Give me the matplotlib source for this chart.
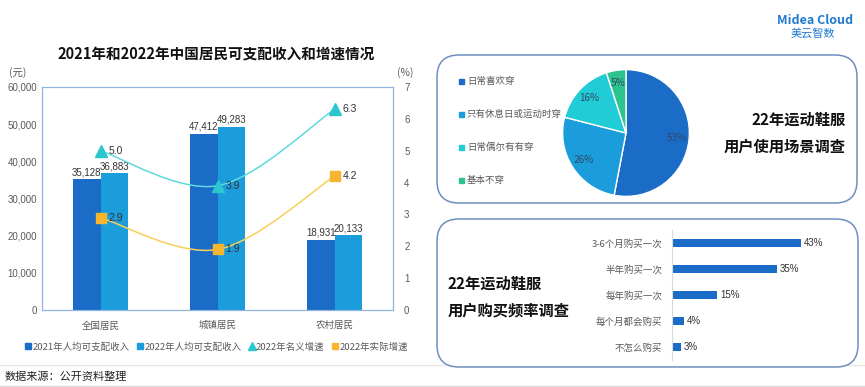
import numpy as np
import matplotlib
matplotlib.use("Agg")
import matplotlib.pyplot as plt
from matplotlib.patches import FancyBboxPatch, Rectangle, PathPatch
from matplotlib.path import Path
from matplotlib.lines import Line2D
from matplotlib.ticker import FuncFormatter

plt.rcParams['font.family'] = ['Noto Sans CJK SC', 'DejaVu Sans']
NUM = ['Liberation Sans', 'Noto Sans CJK SC']

# left chart data
groups = ["全国居民", "城镇居民", "农村居民"]
income_2021 = [35128, 47412, 18931]
income_2022 = [36883, 49283, 20133]
nominal_growth = [5.0, 3.9, 6.3]
real_growth = [2.9, 1.9, 4.2]
series_names = ["2021年人均可支配收入", "2022年人均可支配收入", "2022年名义增速", "2022年实际增速"]

# pie data
scene_labels = ["日常喜欢穿", "只有休息日或运动时穿", "日常偶尔有有穿", "基本不穿"]
scene_share = [53, 26, 16, 5]

# purchase frequency data
freq_labels = ["3-6个月购买一次", "半年购买一次", "每年购买一次", "每个月都会购买", "不怎么购买"]
freq_share = [43, 35, 15, 4, 3]

DARK, LIGHT = "#1a6cc6", "#1c9ddb"
CYAN, CYAN_L = "#2cc6cf", "#5fd8df"
GOLD, GOLD_L = "#f5b52e", "#f7d05a"
PIE_COLS = ["#1a6cc6", "#1c9ddb", "#22ccd6", "#2cc38f"]
GREY = "#595959"
BOX_EC = "#6d8fbf"
FS = 6.8

W, H = 865, 387
fig = plt.figure(figsize=(W / 100, H / 100), dpi=100)


def box(l, t, r, b):
    return [l / W, 1 - b / H, (r - l) / W, (b - t) / H]


def smooth_path(xs, ys):
    pts = np.column_stack([xs, ys]).astype(float)
    n = len(pts)
    verts, codes = [pts[0]], [Path.MOVETO]
    for i in range(n - 1):
        p0, p1, p2, p3 = pts[max(i - 1, 0)], pts[i], pts[i + 1], pts[min(i + 2, n - 1)]
        verts += [p1 + (p2 - p0) / 6, p2 - (p3 - p1) / 6, p2]
        codes += [Path.CURVE4] * 3
    return Path(verts, codes)


# background canvas in pixel coords
bg = fig.add_axes([0, 0, 1, 1])
bg.set_xlim(0, W); bg.set_ylim(H, 0); bg.axis("off")
for (l, t, r, b) in [(437, 55, 857, 203), (437, 219, 858, 367)]:
    bg.add_patch(FancyBboxPatch((l, t), r - l, b - t, boxstyle="round,pad=0,rounding_size=22",
                                fc="white", ec=BOX_EC, lw=1.1, zorder=2))
bg.plot([0, W], [365, 365], color="#e6e6e6", lw=1, zorder=1)
bg.plot([0, W], [386, 386], color="#d9d9d9", lw=1, zorder=1)
bg.text(5, 377, "数据来源：公开资料整理", fontsize=8, va="center", color="#222222")
bg.text(815, 20, "Midea Cloud", fontsize=9, fontweight="bold", color="#1f7ad0", ha="center", va="center")
bg.text(813, 33, "美云智数", fontsize=8, color="#1f7ad0", ha="center", va="center")
bg.text(216, 55, "2021年和2022年中国居民可支配收入和增速情况", fontsize=10.5, fontweight="bold",
        ha="center", va="center", color="#111111")
bg.text(18, 73, "(元)", fontsize=7.5, color=GREY, ha="center", va="center")
bg.text(405, 73, "(%)", fontsize=7.5, color=GREY, ha="center", va="center")

# left combo chart
ax = fig.add_axes(box(42, 87, 393, 310))
x = np.arange(len(groups))
bw = 0.236
ax.bar(x - bw / 2, income_2021, bw, color=DARK, zorder=2)
ax.bar(x + bw / 2, income_2022, bw, color=LIGHT, zorder=2)
for xi, a, b in zip(x, income_2021, income_2022):
    ax.text(xi - bw / 2, a + 500, f"{a:,}", ha="center", va="bottom", fontsize=7, color="#333333",
            family=NUM, zorder=5)
    ax.text(xi + bw / 2, b + 500, f"{b:,}", ha="center", va="bottom", fontsize=7, color="#333333",
            family=NUM, zorder=5)
ax.set_xlim(-0.5, 2.5); ax.set_ylim(0, 60000)
ax.set_xticks(x); ax.set_xticklabels(groups)
ax.set_yticks(np.arange(0, 60001, 10000))
ax.yaxis.set_major_formatter(FuncFormatter(lambda v, p: f"{int(v):,}"))
ax.tick_params(length=0, labelsize=7, colors=GREY)
ax.tick_params(axis="x", labelsize=FS, pad=8)
for t in ax.get_yticklabels():
    t.set_family(NUM)
for s in ax.spines.values():
    s.set_color("#8db4e2")

ax2 = ax.twinx()
ax2.set_ylim(0, 7)
ax2.set_yticks(range(0, 8))
ax2.tick_params(length=0, labelsize=7, colors=GREY, pad=8)
for t in ax2.get_yticklabels():
    t.set_family(NUM)
for s in ax2.spines.values():
    s.set_color("#8db4e2")
ax2.add_patch(PathPatch(smooth_path(x, nominal_growth), fc="none", ec=CYAN_L, lw=1.1, zorder=3))
ax2.add_patch(PathPatch(smooth_path(x, real_growth), fc="none", ec=GOLD_L, lw=1.1, zorder=3))
ax2.plot(x, nominal_growth, ls="none", marker="^", ms=9, color=CYAN, zorder=4)
ax2.plot(x, real_growth, ls="none", marker="s", ms=7.5, color=GOLD, zorder=4)
for xi, v in zip(x, nominal_growth):
    ax2.text(xi + 0.07, v, f"{v:.1f}", va="center", fontsize=7.5, color="#333333", family=NUM, zorder=5)
for xi, v in zip(x, real_growth):
    ax2.text(xi + 0.07, v, f"{v:.1f}", va="center", fontsize=7.5, color="#333333", family=NUM, zorder=5)

handles = [Rectangle((0, 0), 1, 1, color=DARK), Rectangle((0, 0), 1, 1, color=LIGHT),
           Line2D([], [], ls="none", marker="^", ms=6, color=CYAN),
           Line2D([], [], ls="none", marker="s", ms=5, color=GOLD)]
fig.legend(handles, series_names, loc="center", bbox_to_anchor=(216.5 / W, 1 - 347 / H), ncol=4,
           frameon=False, fontsize=FS, handlelength=0.6, handleheight=0.6, handletextpad=0.15,
           columnspacing=0.8, labelcolor=GREY)

# pie chart
axp = fig.add_axes(box(562, 69, 690, 197))
wedges, _, autotexts = axp.pie(scene_share, colors=PIE_COLS, startangle=90, counterclock=False,
                               autopct=lambda p: f"{p:.0f}%", pctdistance=0.8,
                               wedgeprops=dict(edgecolor="white", linewidth=1),
                               textprops=dict(fontsize=7.2, color="#2f4a68"))
axp.set_xlim(-1.01, 1.01); axp.set_ylim(-1.01, 1.01)
axp.set_aspect("equal")
for i, (lab, c) in enumerate(zip(scene_labels, PIE_COLS)):
    y = 81 + i * 33
    bg.add_patch(Rectangle((459, y - 2.5), 5, 5, color=c, zorder=3))
    bg.text(467, y, lab, fontsize=FS, color=GREY, va="center", zorder=3)
bg.text(846, 120, "22年运动鞋服", fontsize=11, fontweight="bold", ha="right", va="center",
        color="#111111", zorder=3)
bg.text(846, 147, "用户使用场景调查", fontsize=11, fontweight="bold", ha="right", va="center",
        color="#111111", zorder=3)

# purchase frequency bars
axb = fig.add_axes(box(672, 230, 807, 360))
yy = np.arange(len(freq_labels))
axb.barh(yy, freq_share, height=0.34, color=DARK)
for yi, v in zip(yy, freq_share):
    axb.text(v + 1, yi, f"{v}%", va="center", fontsize=7, color="#333333", family=NUM)
axb.set_xlim(0, 45); axb.set_ylim(4.5, -0.5)
axb.set_yticks(yy); axb.set_yticklabels(freq_labels)
axb.set_xticks([])
axb.tick_params(length=0, labelsize=FS, colors=GREY, pad=7)
for k in ["top", "right", "bottom"]:
    axb.spines[k].set_visible(False)
axb.spines["left"].set_color("#d9d9d9")
axb.patch.set_alpha(0)
bg.text(448, 284, "22年运动鞋服", fontsize=11, fontweight="bold", ha="left", va="center",
        color="#111111", zorder=3)
bg.text(448, 310, "用户购买频率调查", fontsize=11, fontweight="bold", ha="left", va="center",
        color="#111111", zorder=3)

fig.savefig("out.png", dpi=100)
